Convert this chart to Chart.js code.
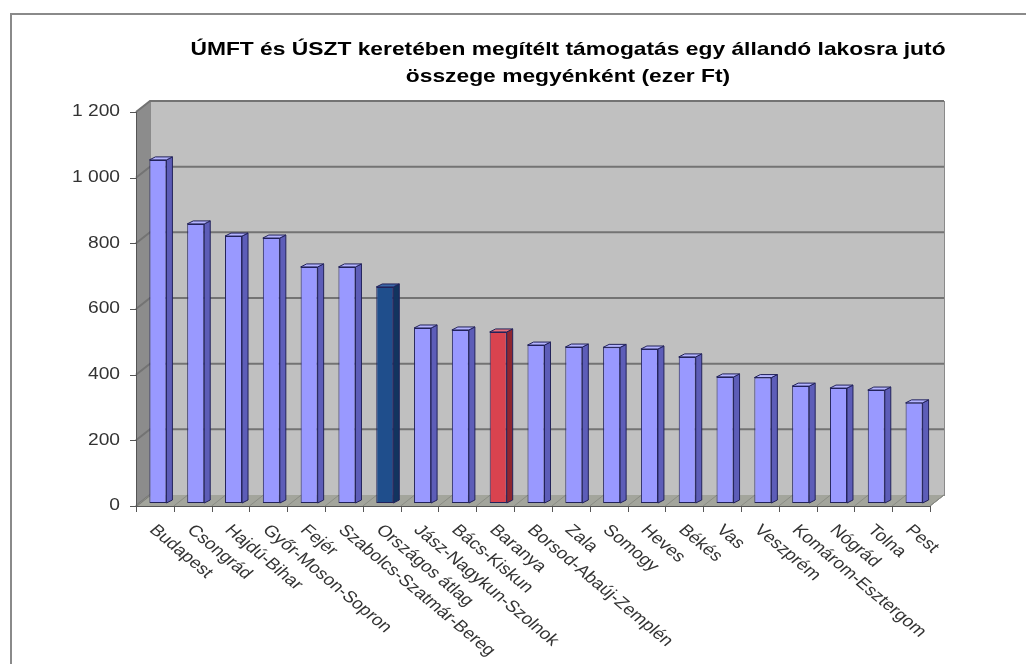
<!DOCTYPE html>
<html>
<head>
<meta charset="utf-8">
<script src="https://cdn.jsdelivr.net/npm/chart.js@4"></script>
<style>
  html, body { margin: 0; padding: 0; background: #fff; overflow: hidden; }
  #frame { position: absolute; left: 10px; top: 13px; width: 1100px; height: 700px;
           border-left: 2px solid #8a8a8a; border-top: 2px solid #8a8a8a; }
  #wrap { position: absolute; left: 0; top: 0; width: 1026px; height: 664px; }
</style>
</head>
<body>
<div id="frame"></div>
<div id="wrap"><canvas id="chart" width="1026" height="664"></canvas></div>
<script>
// Title lines
const titleLines = [
  'ÚMFT és ÚSZT keretében megítélt támogatás egy állandó lakosra jutó',
  'összege megyénként (ezer Ft)'
]

// Counties (plus national average), in chart order
const counties = [
  'Budapest', 'Csongrád', 'Hajdú-Bihar', 'Győr-Moson-Sopron', 'Fejér',
  'Szabolcs-Szatmár-Bereg', 'Országos átlag', 'Jász-Nagykun-Szolnok', 'Bács-Kiskun',
  'Baranya', 'Borsod-Abaúj-Zemplén', 'Zala', 'Somogy', 'Heves', 'Békés', 'Vas',
  'Veszprém', 'Komárom-Esztergom', 'Nógrád', 'Tolna', 'Pest'
]

// Support per resident (thousand Ft)
const support = [
  1045, 850, 813, 807, 719, 719, 658, 533, 527, 521, 481,
  475, 474, 469, 445, 384, 382, 356, 350, 344, 305
]

// Y axis ticks
const yTicks = [0, 200, 400, 600, 800, 1000, 1200]

// Bar colour groups: [front, side, top]
const normalColors = ['#9999ff', '#5d5db8', '#b4b4ff']
const averageColors = ['#1f4e8c', '#12345f', '#3c68a8']
const highlightColors = ['#d9434f', '#8f2630', '#e8707a']

function colorsFor(name) {
  if (name === 'Országos átlag') return averageColors
  if (name === 'Baranya') return highlightColors
  return normalColors
}

// 3D look
const WALL_DX = 14, WALL_DY = -11
const BAR_SHIFT_X = 3, BAR_SHIFT_Y = -3
const BAR_DX = 6, BAR_DY = -3
const TEXT_STRETCH = 1.2

function fmt(v) {
  return v >= 1000 ? Math.floor(v / 1000) + ' ' + String(v % 1000).padStart(3, '0') : String(v)
}

function stretchedText(ctx, text, x, y, align, baseline, angle) {
  ctx.save()
  ctx.translate(x, y)
  ctx.scale(TEXT_STRETCH, 1)
  if (angle) ctx.rotate(angle)
  ctx.textAlign = align
  ctx.textBaseline = baseline
  ctx.fillText(text, 0, 0)
  ctx.restore()
}

// Walls, floor, gridlines behind the bars
const wallsPlugin = {
  id: 'walls',
  beforeDatasetsDraw(chart) {
    const { ctx, chartArea: a, scales: { y } } = chart
    const b = { left: a.left + WALL_DX, right: a.right + WALL_DX, top: a.top + WALL_DY, bottom: a.bottom + WALL_DY }
    ctx.save()
    // side wall
    ctx.fillStyle = '#8c8c8c'
    ctx.beginPath()
    ctx.moveTo(a.left, a.top); ctx.lineTo(b.left, b.top); ctx.lineTo(b.left, b.bottom); ctx.lineTo(a.left, a.bottom)
    ctx.closePath(); ctx.fill()
    // back wall
    ctx.fillStyle = '#c0c0c0'
    ctx.fillRect(b.left, b.top, b.right - b.left, b.bottom - b.top)
    ctx.strokeStyle = '#8a8a8a'; ctx.lineWidth = 1
    ctx.strokeRect(b.left + 0.5, b.top + 0.5, b.right - b.left, b.bottom - b.top)
    // floor
    ctx.fillStyle = '#a3a59c'
    ctx.beginPath()
    ctx.moveTo(a.left, a.bottom); ctx.lineTo(b.left, b.bottom); ctx.lineTo(b.right, b.bottom); ctx.lineTo(a.right, a.bottom)
    ctx.closePath(); ctx.fill()
    ctx.strokeStyle = '#6f6f6f'
    ctx.beginPath()
    ctx.moveTo(b.right, b.bottom); ctx.lineTo(a.right, a.bottom)
    ctx.stroke()
    // gridlines on back wall and side wall
    ctx.strokeStyle = '#737373'; ctx.lineWidth = 2
    yTicks.forEach(v => {
      const py = y.getPixelForValue(v)
      ctx.beginPath()
      ctx.moveTo(a.left, py); ctx.lineTo(b.left, py + WALL_DY)
      if (v > 0) ctx.lineTo(b.right, py + WALL_DY)
      ctx.stroke()
    })
    // floor divider lines between categories
    ctx.strokeStyle = '#8a8c84'; ctx.lineWidth = 1
    const x = chart.scales.x
    for (let i = 0; i <= counties.length; i++) {
      const px = (i === counties.length) ? a.right : x.getPixelForValue(i) - (x.getPixelForValue(1) - x.getPixelForValue(0)) / 2
      ctx.beginPath(); ctx.moveTo(px, a.bottom); ctx.lineTo(px + WALL_DX, b.bottom); ctx.stroke()
    }
    ctx.restore()
  }
}

// Bars: sides and tops, drawn around the library's own front faces
const barsPlugin = {
  id: 'bars3d',
  beforeDatasetDraw(chart, args) {
    const { ctx } = chart
    const meta = chart.getDatasetMeta(args.index)
    ctx.save()
    ctx.translate(BAR_SHIFT_X, BAR_SHIFT_Y)
    meta.data.forEach((el, i) => {
      const c = colorsFor(counties[i])
      const l = el.x - el.width / 2, r = el.x + el.width / 2, t = el.y, btm = el.base
      ctx.lineWidth = 1; ctx.strokeStyle = '#22225a'
      ctx.fillStyle = c[1]
      ctx.beginPath()
      ctx.moveTo(r, t); ctx.lineTo(r + BAR_DX, t + BAR_DY); ctx.lineTo(r + BAR_DX, btm + BAR_DY); ctx.lineTo(r, btm)
      ctx.closePath(); ctx.fill(); ctx.stroke()
      ctx.fillStyle = c[2]
      ctx.beginPath()
      ctx.moveTo(l, t); ctx.lineTo(l + BAR_DX, t + BAR_DY); ctx.lineTo(r + BAR_DX, t + BAR_DY); ctx.lineTo(r, t)
      ctx.closePath(); ctx.fill(); ctx.stroke()
    })
  },
  afterDatasetDraw(chart) {
    chart.ctx.restore()
  }
}

// Front axes, ticks, labels and title
const axesPlugin = {
  id: 'axes3d',
  afterDatasetsDraw(chart) {
    const { ctx, chartArea: a, scales: { x, y } } = chart
    ctx.save()
    ctx.strokeStyle = '#555'; ctx.lineWidth = 1
    // y axis line + ticks
    ctx.beginPath()
    ctx.moveTo(a.left + 0.5, a.top); ctx.lineTo(a.left + 0.5, a.bottom)
    yTicks.forEach(v => {
      const py = Math.round(y.getPixelForValue(v)) + 0.5
      ctx.moveTo(a.left - 6, py); ctx.lineTo(a.left, py)
    })
    // x axis line + ticks
    ctx.moveTo(a.left, a.bottom + 0.5); ctx.lineTo(a.right, a.bottom + 0.5)
    const step = x.getPixelForValue(1) - x.getPixelForValue(0)
    for (let i = 0; i <= counties.length; i++) {
      const px = Math.round(a.left + i * step) + 0.5
      ctx.moveTo(px, a.bottom); ctx.lineTo(px, a.bottom + 6)
    }
    ctx.stroke()

    ctx.fillStyle = '#333'
    ctx.font = '16px Arial, "Liberation Sans", sans-serif'
    yTicks.forEach(v => {
      stretchedText(ctx, fmt(v), a.left - 16, y.getPixelForValue(v), 'right', 'middle')
    })
    ctx.font = '16px Arial, "Liberation Sans", sans-serif'
    counties.forEach((name, i) => {
      stretchedText(ctx, name, x.getPixelForValue(i) + 4, a.bottom + 16, 'left', 'top', Math.PI / 4)
    })

    ctx.fillStyle = '#000'
    ctx.font = 'bold 19px Arial, "Liberation Sans", sans-serif'
    stretchedText(ctx, titleLines[0], 568, 55, 'center', 'alphabetic')
    stretchedText(ctx, titleLines[1], 568, 82, 'center', 'alphabetic')
    ctx.restore()
  }
}

new Chart(document.getElementById('chart'), {
  type: 'bar',
  data: {
    labels: counties,
    datasets: [{
      data: support,
      backgroundColor: counties.map(n => colorsFor(n)[0]),
      borderColor: '#22225a',
      borderWidth: 1,
      borderSkipped: false,
      barPercentage: 0.45,
      categoryPercentage: 1,
      clip: false
    }]
  },
  options: {
    responsive: false,
    animation: false,
    layout: { padding: { left: 136, top: 112, right: 96, bottom: 158 } },
    plugins: { legend: { display: false }, title: { display: false }, tooltip: { enabled: false } },
    scales: {
      x: { display: false },
      y: { display: false, min: 0, max: 1200, ticks: { stepSize: 200 } }
    }
  },
  plugins: [wallsPlugin, barsPlugin, axesPlugin]
})
</script>
</body>
</html>
